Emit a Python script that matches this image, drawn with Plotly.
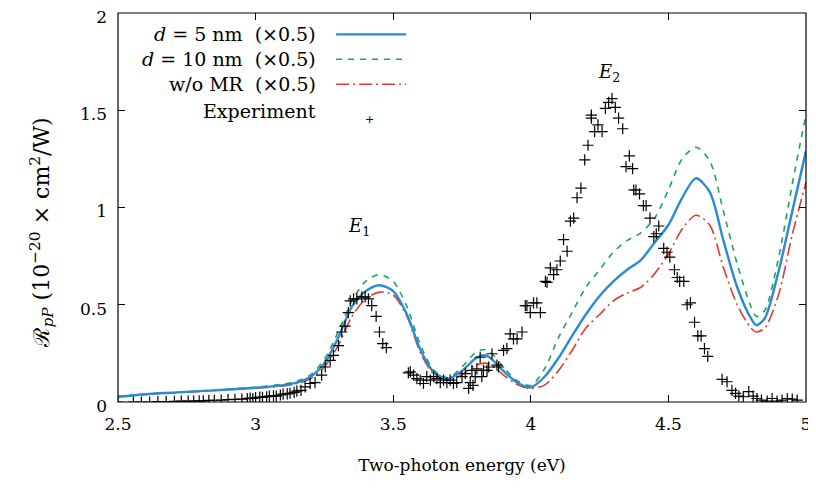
import plotly.graph_objects as go

# ---- model curves (x in eV, y in 1e-20 cm^2/W) ----
x_model = [2.5, 2.6, 2.7, 2.8, 2.9, 3.0, 3.1, 3.15, 3.2, 3.25, 3.3, 3.35, 3.4, 3.45, 3.5,
           3.55, 3.6, 3.65, 3.7, 3.75, 3.8, 3.83, 3.85, 3.9, 3.95, 4.0, 4.05, 4.1, 4.15,
           4.2, 4.25, 4.3, 4.35, 4.4, 4.45, 4.5, 4.55, 4.6, 4.65, 4.7, 4.75, 4.8, 4.82,
           4.85, 4.9, 4.95, 5.0]

y_d5 = [0.027, 0.04, 0.048, 0.056, 0.064, 0.073, 0.087, 0.10, 0.13, 0.20, 0.33, 0.49, 0.57,
        0.60, 0.57, 0.45, 0.265, 0.15, 0.12, 0.16, 0.225, 0.24, 0.23, 0.16, 0.10, 0.075,
        0.13, 0.225, 0.34, 0.45, 0.545, 0.62, 0.68, 0.73, 0.82, 0.91, 1.05, 1.15, 1.08,
        0.83, 0.59, 0.43, 0.395, 0.43, 0.67, 0.98, 1.29]

y_d10 = [0.028, 0.041, 0.049, 0.057, 0.066, 0.076, 0.092, 0.108, 0.14, 0.22, 0.36, 0.52,
         0.62, 0.655, 0.62, 0.49, 0.29, 0.16, 0.125, 0.18, 0.255, 0.27, 0.26, 0.18, 0.11,
         0.085, 0.17, 0.33, 0.46, 0.59, 0.68, 0.77, 0.83, 0.87, 0.945, 1.09, 1.25, 1.31,
         1.24, 0.98, 0.71, 0.49, 0.44, 0.47, 0.74, 1.12, 1.48]

y_nomr = [0.027, 0.039, 0.047, 0.055, 0.063, 0.071, 0.083, 0.095, 0.12, 0.18, 0.29, 0.44,
          0.53, 0.565, 0.55, 0.44, 0.25, 0.14, 0.115, 0.14, 0.19, 0.20, 0.195, 0.14, 0.09,
          0.07, 0.087, 0.16, 0.265, 0.38, 0.45, 0.52, 0.56, 0.59, 0.66, 0.76, 0.89, 0.96,
          0.91, 0.69, 0.50, 0.38, 0.36, 0.38, 0.55, 0.86, 1.13]

# ---- experiment ----
x_exp = [2.50, 2.556, 2.585, 2.615, 2.645, 2.675, 2.705, 2.73, 2.755, 2.775, 2.795, 2.81,
         2.83, 2.85, 2.875, 2.90, 2.925, 2.95, 2.97, 2.98, 2.99, 3.00, 3.015, 3.025, 3.04,
         3.05, 3.065, 3.075, 3.09, 3.10, 3.115, 3.125, 3.14, 3.15, 3.165, 3.18, 3.198,
         3.216, 3.24, 3.253, 3.271, 3.283, 3.301, 3.313, 3.325, 3.337, 3.344, 3.356, 3.368,
         3.386, 3.398, 3.41, 3.422, 3.438, 3.45, 3.462, 3.475, 3.555, 3.562, 3.574, 3.586,
         3.598, 3.61, 3.622, 3.635, 3.647, 3.659, 3.671, 3.683, 3.695, 3.707, 3.719, 3.731,
         3.75, 3.762, 3.774, 3.78, 3.79, 3.786, 3.798, 3.804, 3.816, 3.822, 3.828, 3.841,
         3.847, 3.859, 3.877, 3.883, 3.901, 3.913, 3.925, 3.937, 3.95, 3.968, 3.98, 3.986,
         3.998, 4.01, 4.022, 4.035, 4.053, 4.059, 4.071, 4.083, 4.095, 4.107, 4.119, 4.132,
         4.144, 4.156, 4.168, 4.182, 4.196, 4.208, 4.22, 4.22, 4.232, 4.244, 4.259, 4.271,
         4.283, 4.295, 4.307, 4.319, 4.334, 4.346, 4.358, 4.37, 4.374, 4.382, 4.395, 4.409,
         4.419, 4.433, 4.447, 4.456, 4.465, 4.483, 4.495, 4.505, 4.522, 4.532, 4.541, 4.556,
         4.568, 4.58, 4.595, 4.607, 4.619, 4.631, 4.643, 4.695, 4.713, 4.731, 4.744, 4.756,
         4.772, 4.792, 4.808, 4.822, 4.838, 4.859, 4.877, 4.895, 4.913, 4.932, 4.95, 4.968]

y_exp = [0.0, 0.0, 0.0, 0.0, 0.002, 0.002, 0.003, 0.004, 0.004, 0.005, 0.006, 0.006,
         0.008, 0.009, 0.01, 0.012, 0.013, 0.015, 0.017, 0.02, 0.018, 0.022, 0.025, 0.024,
         0.027, 0.03, 0.032, 0.03, 0.036, 0.04, 0.042, 0.045, 0.05, 0.056, 0.06, 0.078, 0.095,
         0.10, 0.138, 0.18, 0.214, 0.24, 0.29, 0.36, 0.39, 0.46, 0.52, 0.53, 0.53,
         0.54, 0.54, 0.53, 0.495, 0.44, 0.36, 0.30, 0.28, 0.15, 0.155, 0.138, 0.12,
         0.112, 0.095, 0.13, 0.112, 0.13, 0.12, 0.10, 0.112, 0.10, 0.112, 0.095, 0.10,
         0.13, 0.146, 0.07, 0.10, 0.085, 0.163, 0.13, 0.17, 0.23, 0.13, 0.163, 0.163,
         0.18, 0.248, 0.19, 0.18, 0.265, 0.274, 0.35, 0.325, 0.325, 0.36, 0.495, 0.495,
         0.46, 0.51, 0.51, 0.46, 0.62, 0.615, 0.69, 0.655, 0.68, 0.725, 0.835, 0.775,
         0.93, 0.945, 1.05, 1.10, 1.245, 1.32, 1.475, 1.46, 1.39, 1.425, 1.39, 1.51,
         1.54, 1.56, 1.515, 1.46, 1.405, 1.21, 1.265, 1.20, 1.09, 1.09, 1.07, 1.01,
         1.01, 0.945, 0.85, 0.865, 0.905, 0.79, 0.77, 0.745, 0.68, 0.64, 0.62, 0.62,
         0.50, 0.51, 0.41, 0.34, 0.34, 0.274, 0.235, 0.116, 0.104, 0.06, 0.044, 0.03,
         0.027, 0.053, 0.03, 0.018, 0.01, 0.005, 0.018, 0.005, 0.01, 0.018, 0.015, 0.01]

x_ticks = [2.5, 3, 3.5, 4, 4.5, 5]
y_ticks = [0, 0.5, 1, 1.5, 2]

legend_labels = ["<i>d</i>&nbsp;=&nbsp;5&nbsp;nm&nbsp;&nbsp;(×0.5)",
                 "<i>d</i>&nbsp;=&nbsp;10&nbsp;nm&nbsp;&nbsp;(×0.5)",
                 "w/o&nbsp;MR&nbsp;&nbsp;(×0.5)",
                 "Experiment"]

BLUE = "#2a8ad6"
GREEN = "#1fa35a"
RED = "#e03a33"
FONT = "DejaVu Serif"
FS = 17

fig = go.Figure()
fig.add_trace(go.Scatter(x=x_model, y=y_nomr, mode="lines", line=dict(color=RED, width=1.6, dash="13px,4px,2px,4px", shape="spline", smoothing=0.8), showlegend=False))
fig.add_trace(go.Scatter(x=x_model, y=y_d10, mode="lines", line=dict(color=GREEN, width=1.6, dash="6px,6px", shape="spline", smoothing=0.8), showlegend=False))
fig.add_trace(go.Scatter(x=x_model, y=y_d5, mode="lines", line=dict(color=BLUE, width=2.4, shape="spline", smoothing=0.8), showlegend=False))
fig.add_trace(go.Scatter(x=x_exp, y=y_exp, mode="markers",
                         marker=dict(symbol="cross-thin", size=8, line=dict(color="black", width=1.2)),
                         showlegend=False))
# empty trace so the mirrored tick axes (top / right) get drawn
fig.add_trace(go.Scatter(x=[None], y=[None], xaxis="x2", yaxis="y2", showlegend=False, hoverinfo="skip"))

# manual gnuplot-style key (text left, sample right)
rows_y = [0.945, 0.881, 0.817, 0.748]
styles = [dict(color=BLUE, width=2.4), dict(color=GREEN, width=1.6, dash="6px,6px"),
          dict(color=RED, width=1.6, dash="13px,4px,2px,4px")]
for i, lab in enumerate(legend_labels):
    fig.add_annotation(x=0.291, y=rows_y[i], xref="paper", yref="paper", text=lab,
                       showarrow=False, xanchor="right", yanchor="middle",
                       font=dict(family=FONT, size=19, color="black"))
for i in range(3):
    fig.add_shape(type="line", xref="paper", yref="paper", x0=0.317, x1=0.419,
                  y0=rows_y[i], y1=rows_y[i], line=styles[i])
fig.add_annotation(x=0.366, y=rows_y[3], xref="paper", yref="paper", text="+",
                   showarrow=False, font=dict(family="DejaVu Sans", size=11, color="black"))

# plot frame
fig.add_shape(type="rect", xref="paper", yref="paper", x0=0, x1=1, y0=0, y1=1,
              line=dict(color="black", width=1.2), layer="above")

fig.add_annotation(x=3.375, y=0.90, text="<i>E</i><sub>1</sub>", showarrow=False,
                   font=dict(family=FONT, size=FS + 1, color="black"))
fig.add_annotation(x=4.285, y=1.69, text="<i>E</i><sub>2</sub>", showarrow=False,
                   font=dict(family=FONT, size=FS + 1, color="black"))

axis_common = dict(showgrid=False, zeroline=False, showline=False, ticks="inside", ticklen=7,
                   tickcolor="black", tickwidth=1, ticklabeloverflow="allow",
                   tickfont=dict(family=FONT, size=FS, color="black"))
mirror_common = {k: v for k, v in axis_common.items() if k != "tickfont"}
fig.update_layout(
    xaxis=dict(range=[2.5, 5], tickvals=x_ticks, ticklabelstandoff=10,
               title=dict(text="Two-photon energy (eV)", font=dict(family=FONT, size=FS, color="black"), standoff=26),
               **axis_common),
    yaxis=dict(range=[0, 2], tickvals=y_ticks, ticklabelstandoff=10, ticklabelshift=4,
               title=dict(text="ℛ<sub><i>pP</i></sub>&nbsp;(10<sup>−20</sup> × cm<sup>2</sup>/W)&nbsp;&nbsp;&nbsp;&nbsp;&nbsp;&nbsp;&nbsp;",
                          font=dict(family=FONT, size=22, color="black"), standoff=24),
               **axis_common),
    xaxis2=dict(range=[2.5, 5], tickvals=x_ticks, overlaying="x", side="top", anchor="y",
                showticklabels=False, **mirror_common),
    yaxis2=dict(range=[0, 2], tickvals=y_ticks, overlaying="y", side="right", anchor="x",
                showticklabels=False, **mirror_common),
)

# page body has an 8px margin: shrink the figure so the plot frame lands where the reference's does
fig.update_layout(template="none", width=808, height=481, margin=dict(l=110, r=10, t=5, b=87),
                  plot_bgcolor="white", paper_bgcolor="white", showlegend=False)

fig.write_html("out.html")
